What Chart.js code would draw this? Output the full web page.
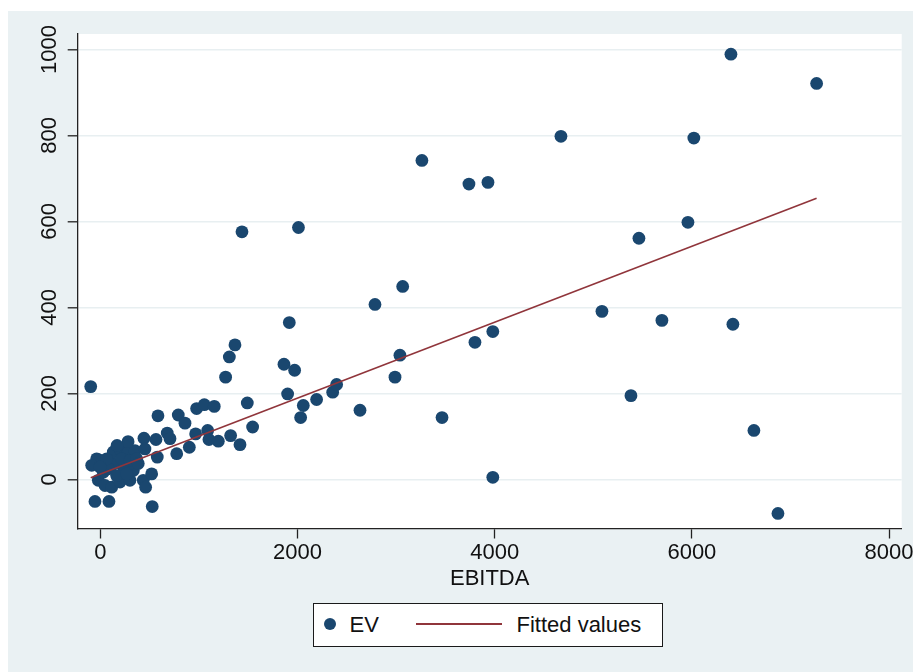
<!DOCTYPE html>
<html>
<head>
<meta charset="utf-8">
<script src="https://cdn.jsdelivr.net/npm/chart.js@4"></script>
<style>
  html, body { margin: 0; padding: 0; background: #fff; overflow: hidden; }
  body { width: 913px; height: 672px; position: relative; font-family: 'Liberation Sans', Arial, sans-serif; }
  #panel { position: absolute; left: 8px; top: 11px; width: 905px; height: 661px; background: #eaf1f3; }
  #wrap { position: absolute; left: 8px; top: 11px; width: 925px; height: 661px; }
  #legend { position: absolute; left: 313px; top: 603px; width: 350px; height: 44px; box-sizing: border-box;
            border: 1.5px solid #1a1a1a; background: #fff; font-size: 22px; color: #111; }
  #legend span { position: absolute; }
  .txt { top: 0; line-height: 41px; white-space: nowrap; }
</style>
</head>
<body>
<div id="panel"></div>
<div id="wrap"><canvas id="chart" width="925" height="661"></canvas></div>
<div id="legend">
  <span style="left: 9.5px; top: 13.5px; width: 12px; height: 12px; border-radius: 50%; background: #1a476f;"></span>
  <span class="txt" style="left: 35.5px;">EV</span>
  <span style="left: 101.5px; top: 19px; width: 86px; height: 1.5px; background: #90353b;"></span>
  <span class="txt" style="left: 202.5px;">Fitted values</span>
</div>
<script>
// EBITDA (x) and EV (y)
const ebitda = [
  -97, 6396, 7265, 4672, 6020, 3262, 3739, 3932, 5960, 5463,
  2010, 1437, 3067, 2786, 1917, 1366, 1309, 1271, 1863, 1971,
  1900, 3039, 2989, 2059, 2032, 2194, 2357, 2397, 2634, 1491,
  1545, 3466, 3800, 3981, 3981, 5088, 5696, 6416, 5382, 6629, 6873,
  791, 859, 977, 1055, 1156, 585, 443, 565, 679, 707,
  967, 1089, 1102, 1197, 1322, 1417, 903, 775, 578, 436,
  521, 460, 527, -54, 88, -20,
  -37, -87, -20, 48, 116, 200, 301, 335, 233, 132,
  132, 200, 284, 352, 453, 30, 81, 166, 268, 65,
  -3, 217, 301, 369, 385, 282, 170
];
const ev = [
  216, 989, 921, 798, 794, 742, 687, 691, 598, 561,
  586, 576, 449, 407, 365, 313, 285, 238, 268, 254,
  199, 289, 238, 172, 144, 186, 203, 221, 161, 178,
  122, 144, 319, 344, 5, 391, 370, 361, 195, 114, -79,
  150, 131, 165, 174, 170, 148, 96, 93, 108, 95,
  106, 114, 93, 89, 102, 81, 75, 60, 52, -2,
  13, -18, -63, -51, -51, 46,
  48, 33, -2, -14, -18, -6, -2, 21, 29, 36,
  64, 71, 64, 67, 71, 17, 25, 9, 13, 48,
  29, 48, 44, 48, 37, 88, 79
];
// fitted line end points
const fitX = [-97, 7265];
const fitY = [4, 654];

const xTicks = [0, 2000, 4000, 6000, 8000];
const yTicks = [0, 200, 400, 600, 800, 1000];

Chart.defaults.font.family = "'Liberation Sans', Arial, sans-serif";
Chart.defaults.color = '#111';

const plotBg = {
  id: 'plotBg',
  beforeDraw(chart) {
    const { ctx, chartArea: a } = chart;
    ctx.save();
    ctx.fillStyle = '#fff';
    ctx.fillRect(a.left, a.top, a.right - a.left, a.bottom - a.top);
    ctx.restore();
  }
};

new Chart(document.getElementById('chart'), {
  type: 'scatter',
  data: {
    datasets: [
      {
        label: 'Fitted values',
        data: fitX.map((x, i) => ({ x: x, y: fitY[i] })),
        showLine: true,
        borderColor: '#90353b',
        borderWidth: 1.6,
        pointRadius: 0,
        order: 0
      },
      {
        label: 'EV',
        data: ebitda.map((x, i) => ({ x: x, y: ev[i] })),
        backgroundColor: '#1a476f',
        borderWidth: 0,
        pointRadius: 6.4,
        pointHoverRadius: 6.4,
        order: 1
      }
    ]
  },
  options: {
    responsive: false,
    animation: false,
    layout: { padding: { top: 23, right: 31.3, bottom: 79.8, left: 0 } },
    plugins: {
      legend: { display: false },
      tooltip: { enabled: false }
    },
    scales: {
      x: {
        type: 'linear',
        min: -229,
        max: 8128,
        afterBuildTicks: s => { s.ticks = xTicks.map(v => ({ value: v })); },
        afterFit: s => { s.height = 63.7; },
        grid: { drawOnChartArea: false, tickLength: 10, tickColor: '#222', tickWidth: 1.3 },
        border: { color: '#222', width: 1.3 },
        ticks: { padding: 1, autoSkip: false, maxRotation: 0, font: { size: 22 }, color: '#111', callback: v => String(v) },
        title: { display: true, text: 'EBITDA', font: { size: 22 }, color: '#111', padding: 0 }
      },
      y: {
        type: 'linear',
        min: -114,
        max: 1036,
        afterBuildTicks: s => { s.ticks = yTicks.map(v => ({ value: v })); },
        afterFit: s => { s.width = 69.7; },
        grid: { color: '#e8eff1', lineWidth: 1.6, tickLength: 10, tickColor: '#222', tickWidth: 1.3 },
        border: { color: '#222', width: 1.3 },
        ticks: { padding: -7, crossAlign: 'center', minRotation: 90, maxRotation: 90, autoSkip: false, font: { size: 22 }, color: '#111', callback: v => String(v) }
      }
    }
  },
  plugins: [plotBg]
});
</script>
</body>
</html>
